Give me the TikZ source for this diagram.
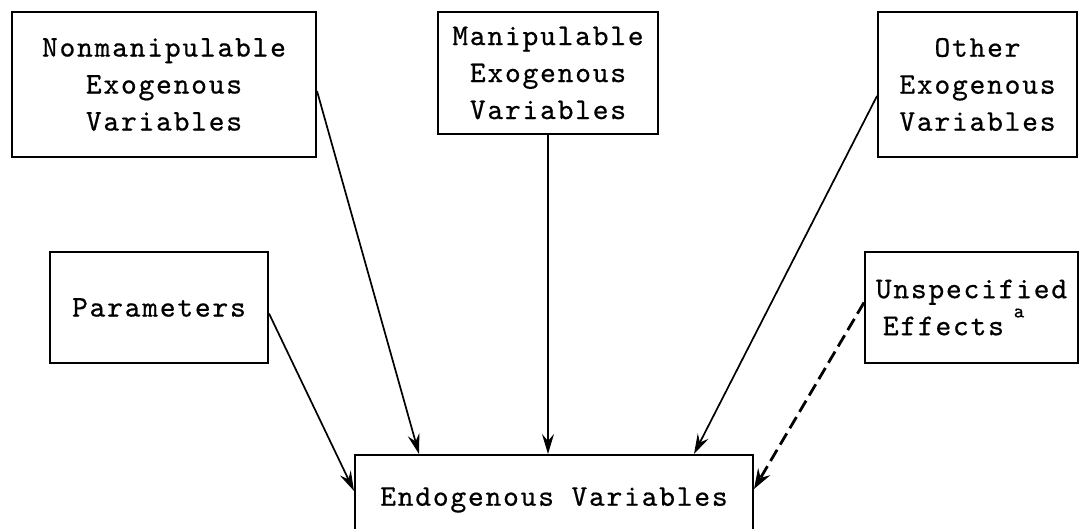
\documentclass[tikz,border=0pt]{standalone}
\usepackage{fontspec}
\newfontfamily\boxff{lmmono10-regular.otf}[LetterSpace=6.0,FakeBold=0.6]
\usetikzlibrary{arrows.meta,calc}
\newcommand{\boxfont}{\boxff\fontsize{30}{37}\selectfont}
\tikzset{
  box/.style={draw=black, line width=2pt, rectangle, inner sep=0pt, align=center,
    font=\boxfont},
  arr/.style={line width=1.7pt, -{Stealth[length=20pt,width=12pt,inset=7pt]}},
  darr/.style={line width=2.8pt, dash pattern=on 13pt off 6pt, -{Stealth[length=20pt,width=14pt,inset=7pt]}}
}
\begin{document}
\begin{tikzpicture}[x=1pt,y=-1pt]
\useasboundingbox (0,0) rectangle (1088,529);
\clip (0,0) rectangle (1088,529);
\node[box, minimum width=304pt, minimum height=145pt] (n1) at (164,84.5) {Nonmanipulable\\Exogenous\\Variables};
\node[box, minimum width=220pt, minimum height=122pt] (n2) at (548,73) {Manipulable\\Exogenous\\Variables};
\node[box, minimum width=199pt, minimum height=145pt] (n3) at (977.5,84.5) {Other\\Exogenous\\Variables};
\node[box, minimum width=218pt, minimum height=111pt] (par) at (159,307.5) {Parameters};
\node[box, minimum width=213pt, minimum height=111pt, align=left] (uns) at (971.5,307.5) {Unspecified\\\hspace{7pt}Effects};
\node[font=\boxff\fontsize{20}{20}\selectfont, inner sep=0pt] (fn) at (1019,313) {a};
\node[box, minimum width=398pt, minimum height=90pt] (endo) at (554,500) {Endogenous Variables};
\draw[arr] ($(n1.north east)+(0,80)$) -- ($(endo.north west)+(65,0)$);
\draw[arr] (n2.south) -- (n2.south |- endo.north);
\draw[arr] ($(n3.north west)+(0,85)$) -- ($(endo.north east)+(-60,0)$);
\draw[arr] ($(par.east)+(0,6)$) -- ($(endo.north west)+(0,37)$);
\draw[darr] ($(uns.west)+(0,-5)$) -- ($(endo.north east)+(0,35)$);
\end{tikzpicture}
\end{document}
